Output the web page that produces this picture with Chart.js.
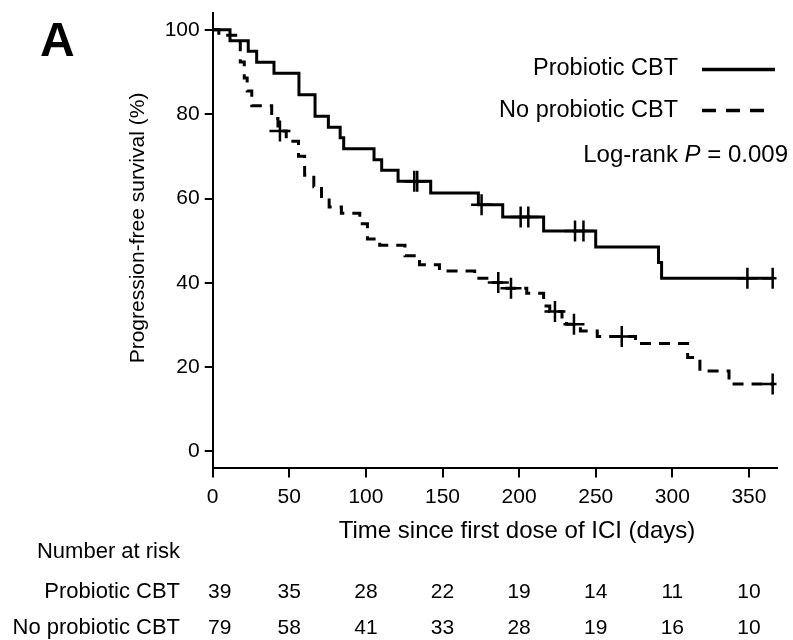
<!DOCTYPE html>
<html>
<head>
<meta charset="utf-8">
<script src="https://cdn.jsdelivr.net/npm/chart.js@4.4.1/dist/chart.umd.min.js"></script>
<style>
  html, body { margin: 0; padding: 0; background: #fff; }
  #wrap { width: 793px; height: 640px; }
</style>
</head>
<body>
<div id="wrap"><canvas id="km" width="793" height="640"></canvas></div>
<script>
// axis ticks
const xTicks = [0, 50, 100, 150, 200, 250, 300, 350];
const yTicks = [0, 20, 40, 60, 80, 100];

// Probiotic CBT: step times (days) and survival (%) after each step
const proTimes = [0, 11.3, 23.2, 28.7, 40.0, 56.3, 66.8, 75.5, 83.2, 85.5, 105.3, 110.3, 121, 142.3, 173.4, 189.3, 216, 250, 291, 293, 365.5];
const proSurv  = [100, 97.4, 94.9, 92.3, 89.7, 84.6, 79.5, 76.9, 74.4, 71.8, 69.2, 66.7, 64.1, 61.3, 58.5, 55.6, 52.3, 48.5, 44.8, 41.1, 41.1];
const proCensorTimes = [131.6, 133.5, 175.5, 201, 206, 236.5, 242, 349, 365.5];
const proCensorSurv  = [64.1, 64.1, 58.5, 55.6, 55.6, 52.3, 52.3, 41.1, 41.1];

// No probiotic CBT
const noTimes = [0, 4, 18, 20.6, 22.5, 25.5, 38.5, 42.6, 48, 56, 60, 66, 71, 76, 84, 96, 101, 109, 125.5, 135, 148, 171, 180, 190, 205, 216, 220, 228, 231, 240, 251, 276, 310, 318, 337, 365.5];
const noSurv  = [100, 98.7, 92.4, 88.6, 85.5, 82.0, 79.0, 76.0, 73.6, 70.0, 65.5, 62.8, 60.1, 58.0, 56.5, 54.0, 50.4, 48.9, 46.4, 44.3, 42.8, 41.1, 40.1, 38.7, 37.5, 34.5, 33.2, 31.4, 30.2, 28.6, 27.3, 25.6, 22.3, 19.1, 16.0, 16.0];
const noCensorTimes = [43.9, 186.4, 194.7, 223.4, 235.8, 267, 365.5];
const noCensorSurv  = [76.0, 40.1, 38.7, 33.2, 30.2, 27.3, 16.0];

// number at risk under each x tick
const riskGroups = ["Probiotic CBT", "No probiotic CBT"];
const riskPro = [39, 35, 28, 22, 19, 14, 11, 10];
const riskNo  = [79, 58, 41, 33, 28, 19, 16, 10];

const FONT = '"Liberation Sans", Arial, Helvetica, sans-serif';
Chart.defaults.font.family = FONT;
Chart.defaults.color = '#000';

const toPts = (xs, ys) => xs.map((t, i) => ({ x: t, y: ys[i] }));

// titles, legend, p-value and risk table
const kmText = {
    id: 'kmText',
    afterDraw(chart) {
        const { ctx, scales: { x } } = chart;
        ctx.save();
        ctx.fillStyle = '#000';
        ctx.strokeStyle = '#000';

        ctx.font = 'bold 48px ' + FONT;
        ctx.textAlign = 'left';
        ctx.textBaseline = 'alphabetic';
        ctx.fillText('A', 40, 56);

        // y title
        ctx.save();
        ctx.translate(138, 228);
        ctx.rotate(-Math.PI / 2);
        ctx.font = '21px ' + FONT;
        ctx.textAlign = 'center';
        ctx.textBaseline = 'middle';
        ctx.fillText('Progression-free survival (%)', 0, 0);
        ctx.restore();

        // x title
        ctx.font = '24px ' + FONT;
        ctx.textAlign = 'center';
        ctx.textBaseline = 'middle';
        ctx.fillText('Time since first dose of ICI (days)', 517, 531);

        // legend
        ctx.font = '23.5px ' + FONT;
        ctx.textAlign = 'right';
        ctx.fillText(riskGroups[0], 678, 69);
        ctx.fillText(riskGroups[1], 678, 111);
        ctx.lineWidth = 3.5;
        ctx.beginPath();
        ctx.moveTo(702, 69.5);
        ctx.lineTo(775, 69.5);
        ctx.stroke();
        ctx.setLineDash([14, 10]);
        ctx.beginPath();
        ctx.moveTo(702, 110.5);
        ctx.lineTo(770, 110.5);
        ctx.stroke();
        ctx.setLineDash([]);

        // log-rank
        const parts = [['Log-rank ', ''], ['P', 'italic '], [' = 0.009', '']];
        let total = 0;
        parts.forEach(p => { ctx.font = p[1] + '24px ' + FONT; total += ctx.measureText(p[0]).width; });
        let px = 788 - total;
        ctx.textAlign = 'left';
        parts.forEach(p => {
            ctx.font = p[1] + '24px ' + FONT;
            ctx.fillText(p[0], px, 155);
            px += ctx.measureText(p[0]).width;
        });

        // risk table
        ctx.font = '22px ' + FONT;
        ctx.textAlign = 'right';
        ctx.fillText('Number at risk', 180, 552);
        ctx.fillText(riskGroups[0], 180, 592);
        ctx.fillText(riskGroups[1], 180, 628);
        ctx.font = '21px ' + FONT;
        ctx.textAlign = 'center';
        xTicks.forEach((t, i) => {
            const cx = x.getPixelForValue(t) + (i === 0 ? 7 : 0);
            ctx.fillText(String(riskPro[i]), cx, 592);
            ctx.fillText(String(riskNo[i]), cx, 628);
        });
        ctx.restore();
    }
};

new Chart(document.getElementById('km'), {
    type: 'line',
    data: {
        datasets: [
            {
                label: riskGroups[0],
                data: toPts(proTimes, proSurv),
                stepped: 'before',
                borderColor: '#000',
                borderWidth: 3,
                borderJoinStyle: 'miter',
                pointRadius: 0,
                fill: false
            },
            {
                label: riskGroups[1],
                data: toPts(noTimes, noSurv),
                stepped: 'before',
                borderColor: '#000',
                borderWidth: 3,
                borderDash: [11, 8],
                borderJoinStyle: 'miter',
                pointRadius: 0,
                fill: false
            },
            {
                type: 'scatter',
                label: 'censored pro',
                data: toPts(proCensorTimes, proCensorSurv),
                showLine: false,
                pointStyle: 'cross',
                pointRadius: 10.5,
                borderWidth: 2.5,
                borderColor: '#000'
            },
            {
                type: 'scatter',
                label: 'censored no',
                data: toPts(noCensorTimes, noCensorSurv),
                showLine: false,
                pointStyle: 'cross',
                pointRadius: 10.5,
                borderWidth: 2.5,
                borderColor: '#000'
            }
        ]
    },
    options: {
        responsive: false,
        animation: false,
        devicePixelRatio: 1,
        layout: { padding: { left: 0, top: 12, right: 16.5, bottom: 0 } },
        plugins: { legend: { display: false }, tooltip: { enabled: false } },
        scales: {
            x: {
                type: 'linear',
                min: 0,
                max: 368,
                afterBuildTicks: s => { s.ticks = xTicks.map(v => ({ value: v })); },
                afterFit: s => { s.height = 172.5; s.paddingLeft = 0; s.paddingRight = 0; },
                grid: { display: true, drawOnChartArea: false, drawTicks: true, tickLength: 10, color: '#000', lineWidth: 2 },
                border: { display: true, color: '#000', width: 2 },
                ticks: { font: { size: 21 }, color: '#000', padding: 7, maxRotation: 0, autoSkip: false }
            },
            y: {
                type: 'linear',
                min: -3.8,
                max: 104,
                afterBuildTicks: s => { s.ticks = yTicks.map(v => ({ value: v })); },
                afterFit: s => { s.width = 212.7; s.paddingTop = 0; s.paddingBottom = 0; },
                grid: { display: true, drawOnChartArea: false, drawTicks: true, tickLength: 8, color: '#000', lineWidth: 2 },
                border: { display: true, color: '#000', width: 2 },
                ticks: { font: { size: 21 }, color: '#000', padding: 5, autoSkip: false }
            }
        }
    },
    plugins: [kmText]
});
</script>
</body>
</html>
